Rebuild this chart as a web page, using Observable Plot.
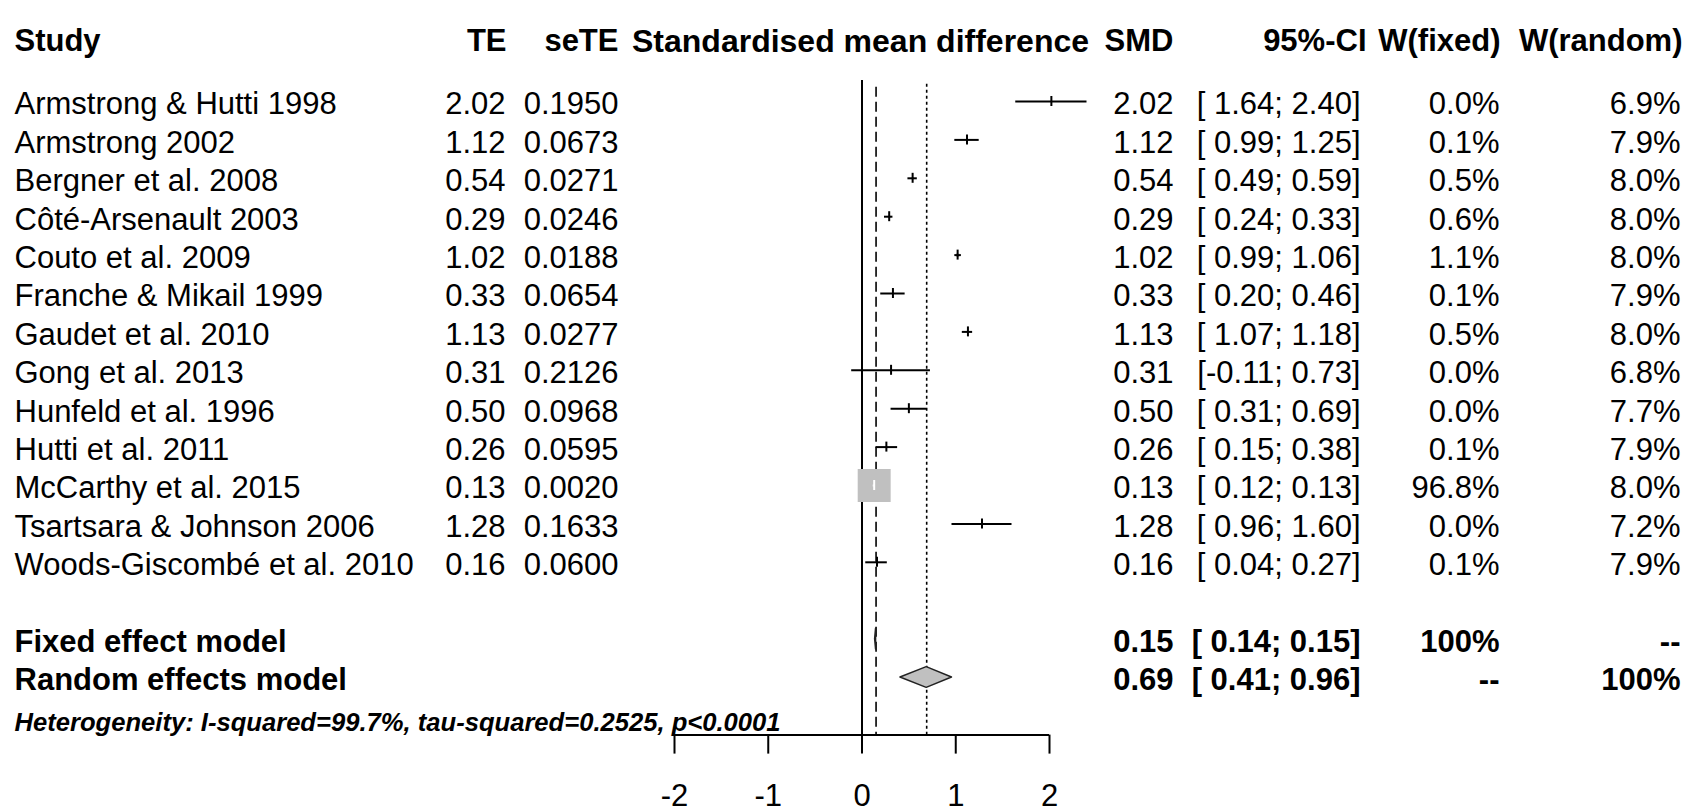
<!DOCTYPE html>
<html><head><meta charset="utf-8">
<script src="https://cdn.jsdelivr.net/npm/d3@7"></script>
<script src="https://cdn.jsdelivr.net/npm/@observablehq/plot@0.6"></script>
<style>html,body{margin:0;padding:0;background:#fff;} svg text{white-space:pre;}</style>
</head><body><div id="chart"></div>
<script>
// ---- data ----
const studies = ["Armstrong & Hutti 1998","Armstrong 2002","Bergner et al. 2008","Côté-Arsenault 2003","Couto et al. 2009","Franche & Mikail 1999","Gaudet et al. 2010","Gong et al. 2013","Hunfeld et al. 1996","Hutti et al. 2011","McCarthy et al. 2015","Tsartsara & Johnson 2006","Woods-Giscombé et al. 2010"];
const te = [2.02,1.12,0.54,0.29,1.02,0.33,1.13,0.31,0.50,0.26,0.13,1.28,0.16];
const seTE = ["0.1950","0.0673","0.0271","0.0246","0.0188","0.0654","0.0277","0.2126","0.0968","0.0595","0.0020","0.1633","0.0600"];
const ciLower = [1.64,0.99,0.49,0.24,0.99,0.20,1.07,-0.11,0.31,0.15,0.12,0.96,0.04];
const ciUpper = [2.40,1.25,0.59,0.33,1.06,0.46,1.18,0.73,0.69,0.38,0.13,1.60,0.27];
const wFixed = [0.0,0.1,0.5,0.6,1.1,0.1,0.5,0.0,0.0,0.1,96.8,0.0,0.1];
const wRandom = [6.9,7.9,8.0,8.0,8.0,7.9,8.0,6.8,7.7,7.9,8.0,7.2,7.9];

const modelLabels = ["Fixed effect model","Random effects model"];
const modelEst = [0.15,0.69];
const modelLower = [0.14,0.41];
const modelUpper = [0.15,0.96];
const modelWFixed = ["100%","--"];
const modelWRandom = ["--","100%"];

const heterogeneity = "Heterogeneity: I-squared=99.7%, tau-squared=0.2525, p<0.0001";
const headerLabels = ["Study","TE","seTE","Standardised mean difference","SMD","95%-CI","W(fixed)","W(random)"];
const axisTicks = [-2,-1,0,1,2];

// ---- layout ----
const W = 1700, H = 812;
const mL = 674, mR = 651, mT = 101, mB = 77.4;
const FONT = "Liberation Sans, Arial, Helvetica, sans-serif";
const colX = {study: 14, te: 505, se: 618, smd: 1173, ci: 1360, wf: 1499, wr: 1680};
// [x, anchor, fontSize]
const headX = [[14,"start",31],[506,"end",31],[618,"end",31],[860,"middle",32],[1173,"end",31],[1366,"end",31],[1500,"end",31],[1682,"end",31]];
const rowStudyStart = 0, rowFixed = 14, rowRandom = 15, rowHet = 16.1, rowAxis = 16.5;
const textDy = 3;

const fmt2 = v => v.toFixed(2);
const ciText = (lo, hi) => "[" + (lo < 0 ? fmt2(lo) : "\u00a0" + fmt2(lo)) + "; " + fmt2(hi) + "]";

const rows = studies.map((s, i) => ({
  row: rowStudyStart + i, study: s, te: te[i], se: seTE[i], lo: ciLower[i], hi: ciUpper[i],
  wf: wFixed[i], wr: wRandom[i],
  smdT: fmt2(te[i]), ciT: ciText(ciLower[i], ciUpper[i]),
  wfT: wFixed[i].toFixed(1) + "%", wrT: wRandom[i].toFixed(1) + "%"
}));
const models = modelLabels.map((m, i) => ({
  row: i === 0 ? rowFixed : rowRandom, label: m, est: modelEst[i], lo: modelLower[i], hi: modelUpper[i],
  smdT: fmt2(modelEst[i]), ciT: ciText(modelLower[i], modelUpper[i]), wfT: modelWFixed[i], wrT: modelWRandom[i]
}));
const diamondHalf = 0.27;
const diamondPts = models.flatMap(m => [
  {model: m.label, x: m.lo, y1: m.row, y2: m.row},
  {model: m.label, x: m.est, y1: m.row - diamondHalf, y2: m.row + diamondHalf},
  {model: m.label, x: m.hi, y1: m.row, y2: m.row}
]);

const col = (data, text, key, anchor, extra = {}) => Plot.text(data, {
  y: "row", text, frameAnchor: "left", dx: colX[key] - mL, dy: textDy, textAnchor: anchor, fontSize: 31, ...extra
});

const headerMarks = headerLabels.map((h, i) => Plot.text([h], {
  text: d => d, frameAnchor: "top-left", dx: headX[i][0] - mL, dy: 28.7 - mT,
  textAnchor: headX[i][1], fontWeight: "bold", fontSize: headX[i][2]
}));

const chart = Plot.plot({
  width: W, height: H,
  marginLeft: mL, marginRight: mR, marginTop: mT, marginBottom: mB,
  x: {domain: [-2, 2]},
  y: {domain: [0, rowAxis], reverse: true, axis: null},
  r: {type: "sqrt", domain: [0, 96.8], range: [0, 18.6]},
  style: {fontFamily: FONT, fontSize: "31px", color: "black", background: "white"},
  marks: [
    // reference lines
    Plot.ruleX([0], {y1: -0.55, y2: rowAxis, stroke: "black", strokeWidth: 2}),
    Plot.ruleX([modelEst[0]], {y1: -0.37, y2: rowAxis, stroke: "black", strokeWidth: 1.6, strokeDasharray: "10,5"}),
    Plot.ruleX([modelEst[1]], {y1: -0.45, y2: rowAxis, stroke: "black", strokeWidth: 1.6, strokeDasharray: "3,3"}),
    // axis
    Plot.ruleY([rowAxis], {x1: -2, x2: 2, stroke: "black", strokeWidth: 2}),
    Plot.axisX({ticks: axisTicks, anchor: "bottom", tickSize: 19, tickPadding: 30, fontSize: 31, strokeWidth: 2, tickFormat: d => String(d), label: null}),
    // study squares
    Plot.dot(rows, {x: "te", y: "row", r: "wf", symbol: "square", fill: "#c0c0c0", stroke: "none"}),
    // CI lines and estimate ticks
    Plot.ruleY(rows, {filter: d => d.wf <= 50, y: "row", x1: "lo", x2: "hi", stroke: "black", strokeWidth: 2}),
    Plot.ruleX(rows, {filter: d => d.wf <= 50, x: "te", y1: d => d.row - 0.13, y2: d => d.row + 0.13, stroke: "black", strokeWidth: 2}),
    Plot.ruleY(rows, {filter: d => d.wf > 50, y: "row", x1: "lo", x2: "hi", stroke: "white", strokeWidth: 2}),
    Plot.ruleX(rows, {filter: d => d.wf > 50, x: "te", y1: d => d.row - 0.13, y2: d => d.row + 0.13, stroke: "white", strokeWidth: 2}),
    // diamonds
    Plot.area(diamondPts, {x1: "x", y1: "y1", y2: "y2", z: "model", fill: "#c0c0c0", stroke: "#222", strokeWidth: 1.5}),
    // headers
    ...headerMarks,
    // study columns
    col(rows, "study", "study", "start"),
    col(rows, d => fmt2(d.te), "te", "end"),
    col(rows, "se", "se", "end"),
    col(rows, "smdT", "smd", "end"),
    col(rows, "ciT", "ci", "end"),
    col(rows, "wfT", "wf", "end"),
    col(rows, "wrT", "wr", "end"),
    // model rows
    col(models, "label", "study", "start", {fontWeight: "bold"}),
    col(models, "smdT", "smd", "end", {fontWeight: "bold"}),
    col(models, "ciT", "ci", "end", {fontWeight: "bold"}),
    col(models, "wfT", "wf", "end", {fontWeight: "bold"}),
    col(models, "wrT", "wr", "end", {fontWeight: "bold"}),
    // heterogeneity
    Plot.text([heterogeneity], {text: d => d, y: rowHet, frameAnchor: "left", dx: colX.study - mL, dy: textDy, textAnchor: "start", fontSize: 25.6, fontWeight: "bold", fontStyle: "italic"})
  ]
});
document.getElementById("chart").appendChild(chart);
</script>
</body></html>
